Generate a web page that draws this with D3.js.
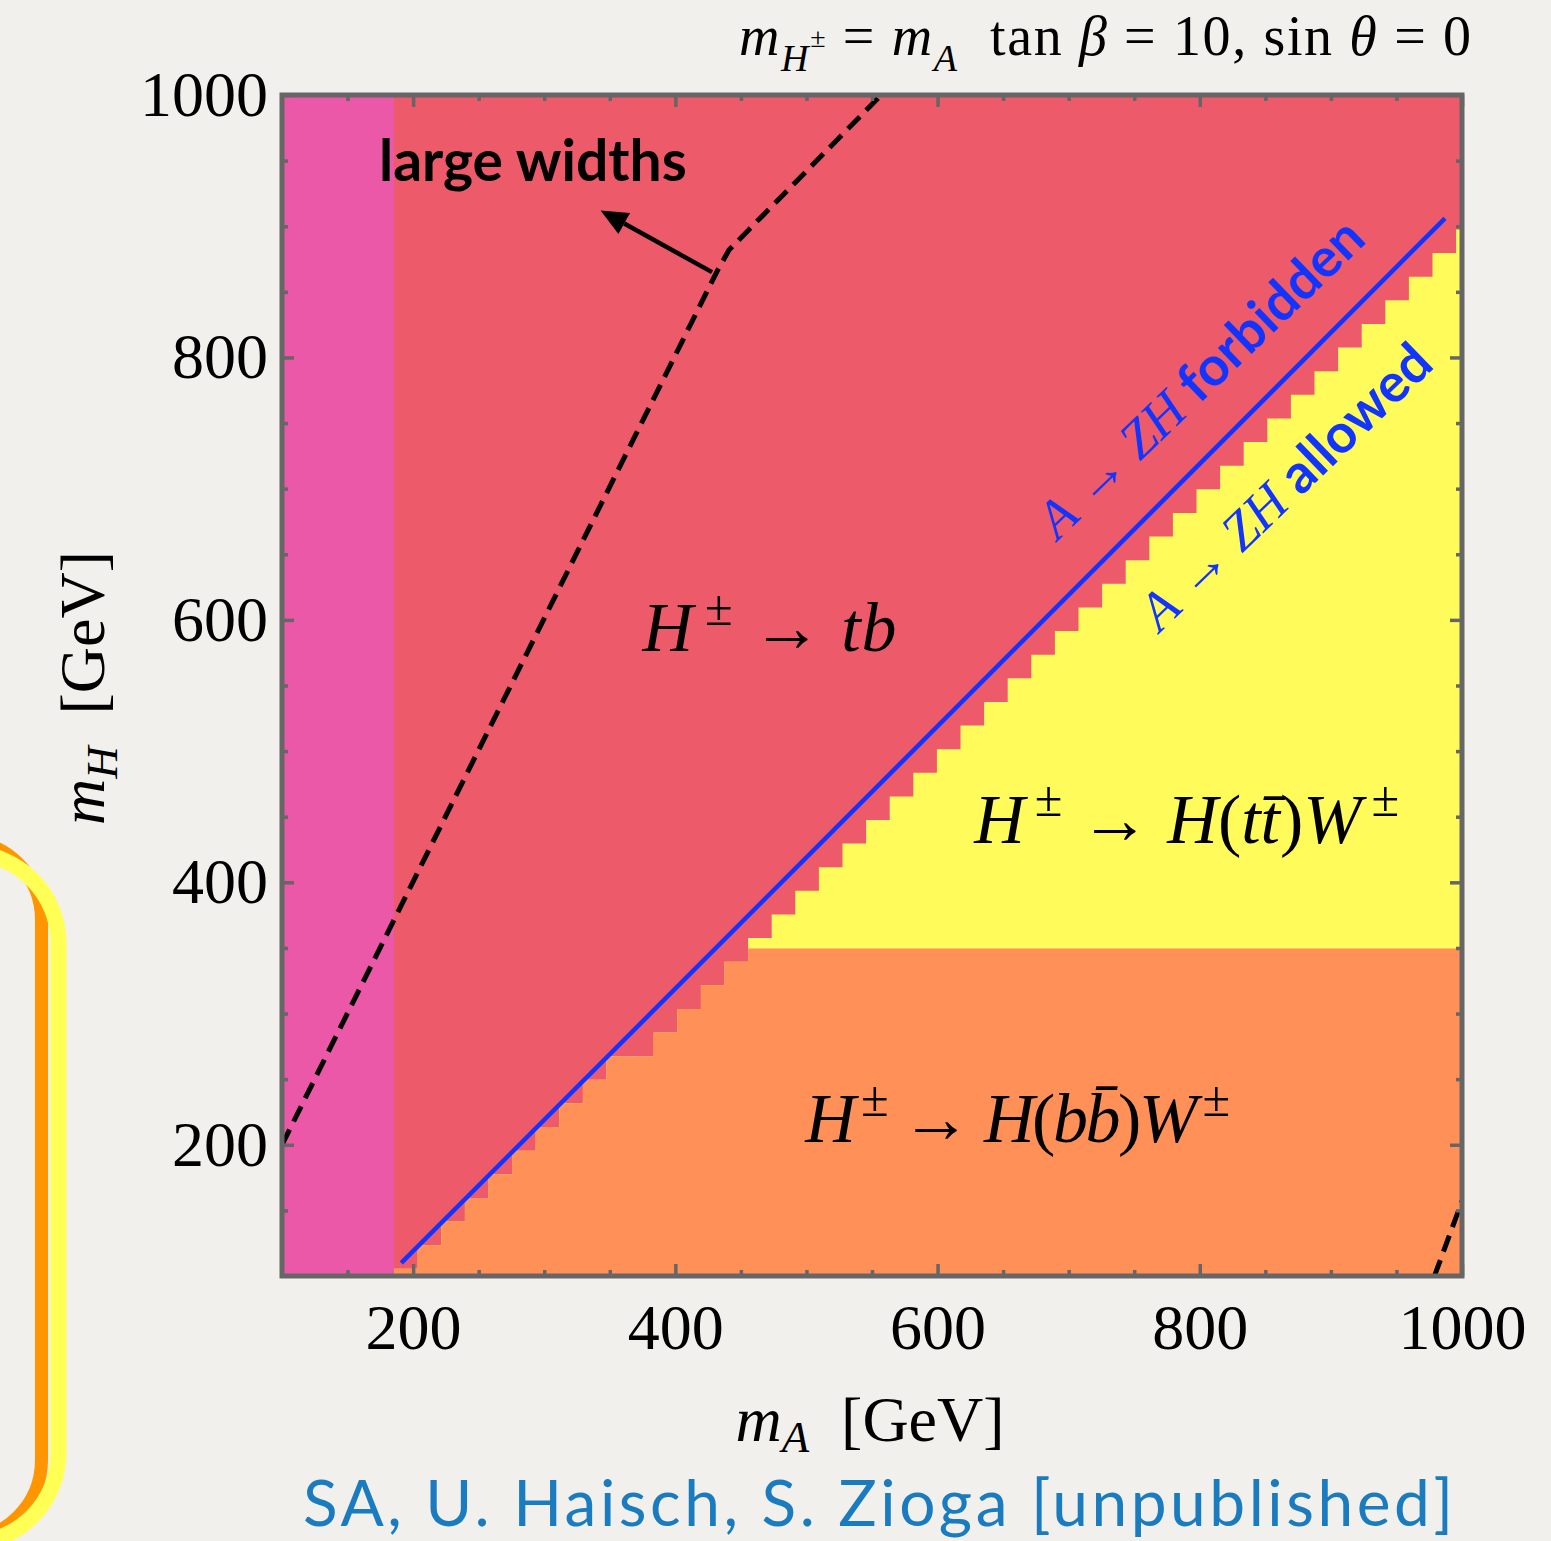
<!DOCTYPE html>
<html>
<head>
<meta charset="utf-8">
<script src="https://cdn.jsdelivr.net/npm/d3@7/dist/d3.min.js"></script>
<style>
  body { margin: 0; background: #f1f0ed; }
  svg { display: block; }
</style>
</head>
<body>
<div id="chart"></div>
<script>
// axis ranges and ticks (GeV)
var xDomain = [100, 1000]
var yDomain = [100, 1000]
var majorTicks = [200, 400, 600, 800, 1000]
var minorTicks = [150, 250, 300, 350, 450, 500, 550, 650, 700, 750, 850, 900, 950]

// region boundaries
var wideWidthMax = 185.5   // m_A below this: pink band
var ttbarMin = 349.5       // m_H above this: H -> t tbar
// staircase of the sampled region boundary (m_A left edge of each column, m_H top of column)
var stepLeft = [185.5, 203.5, 221.5, 239.5, 257.5, 275.5, 293.5, 311.5, 329.5, 347.5,
                365.5, 383.5, 401.5, 419.5, 437.5, 455.5, 473.5, 491.5, 509.5, 527.5,
                545.5, 563.5, 581.5, 599.5, 617.5, 635.5, 653.5, 671.5, 689.5, 707.5,
                725.5, 743.5, 761.5, 779.5, 797.5, 815.5, 833.5, 851.5, 869.5, 887.5,
                905.5, 923.5, 941.5, 959.5, 977.5, 995.5]
var stepTop = [105.5, 123.5, 141.5, 159.5, 177.5, 195.5, 213.5, 231.5, 249.5, 267.5,
               267.5, 285.5, 303.5, 321.5, 339.5, 357.5, 375.5, 393.5, 411.5, 429.5,
               447.5, 465.5, 483.5, 501.5, 519.5, 537.5, 555.5, 573.5, 591.5, 609.5,
               627.5, 645.5, 663.5, 681.5, 699.5, 717.5, 735.5, 753.5, 771.5, 789.5,
               807.5, 825.5, 843.5, 861.5, 879.5, 897.5]

// A -> ZH threshold line
var zhLine = [[191, 110], [987, 906]]
// "large widths" contours (dashed)
var widthCurve = [[100, 200], [432, 866], [441, 882], [557, 1000]]
var widthCurve2 = [[979, 100], [1000, 157]]
// arrow from the contour towards the label
var widthArrow = [[428, 865], [343, 912]]

var width = 1551
var height = 1541

var svg = d3.select("#chart")
    .append("svg")
    .attr("width", width)
    .attr("height", height)

svg.append("rect")
    .attr("width", width)
    .attr("height", height)
    .attr("fill", "#f1f0ed")

// decoration on the left edge (part of a rounded box)
svg.append("rect")
    .attr("x", -300).attr("y", 840).attr("width", 341.5).attr("height", 700)
    .attr("rx", 80).attr("ry", 80)
    .attr("fill", "none").attr("stroke", "#ff9500").attr("stroke-width", 13)
svg.append("rect")
    .attr("x", -300).attr("y", 853).attr("width", 358.5).attr("height", 690)
    .attr("rx", 90).attr("ry", 90)
    .attr("fill", "none").attr("stroke", "#ffff55").attr("stroke-width", 16)

var x = d3.scaleLinear().domain(xDomain).range([282, 1462])
var y = d3.scaleLinear().domain(yDomain).range([1276, 95])

svg.append("clipPath").attr("id", "plotclip")
    .append("rect")
    .attr("x", x(100)).attr("y", y(1000))
    .attr("width", x(1000) - x(100)).attr("height", y(100) - y(1000))

var plot = svg.append("g").attr("clip-path", "url(#plotclip)")

// H+ -> tb everywhere
plot.append("rect")
    .attr("x", x(100)).attr("y", y(1000))
    .attr("width", x(1000) - x(100)).attr("height", y(100) - y(1000))
    .attr("fill", "#ed5a6a")

// large widths band
plot.append("rect")
    .attr("x", x(100)).attr("y", y(1000))
    .attr("width", x(wideWidthMax) - x(100)).attr("height", y(100) - y(1000))
    .attr("fill", "#ea58a7")

function stairs(cap) {
    var pts = [[wideWidthMax, 100]]
    stepLeft.forEach(function(l, i) {
        var r = i < stepLeft.length - 1 ? stepLeft[i + 1] : 1000
        var t = Math.min(stepTop[i], cap)
        pts.push([l, t])
        pts.push([r, t])
    })
    pts.push([1000, 100])
    return pts
}

var area = d3.line()
    .x(function(d) { return x(d[0]) })
    .y(function(d) { return y(d[1]) })

plot.append("path")
    .attr("d", area(stairs(2000)) + "Z")
    .attr("fill", "#fffb5a")
plot.append("path")
    .attr("d", area(stairs(ttbarMin)) + "Z")
    .attr("fill", "#ff9058")

// A -> ZH threshold
plot.append("path")
    .attr("d", area(zhLine))
    .attr("fill", "none")
    .attr("stroke", "#1234ff")
    .attr("stroke-width", 4.5)

// dashed width contours
;[widthCurve, widthCurve2].forEach(function(c) {
    plot.append("path")
        .attr("d", area(c))
        .attr("fill", "none")
        .attr("stroke", "#000")
        .attr("stroke-width", 5)
        .attr("stroke-dasharray", "17,9")
})

// arrow
var a0 = [x(widthArrow[0][0]), y(widthArrow[0][1])]
var a1 = [x(widthArrow[1][0]), y(widthArrow[1][1])]
var ang = Math.atan2(a1[1] - a0[1], a1[0] - a0[0])
var headLen = 27, headW = 12
var bx = a1[0] - headLen * Math.cos(ang), by = a1[1] - headLen * Math.sin(ang)
plot.append("line")
    .attr("x1", a0[0]).attr("y1", a0[1]).attr("x2", bx).attr("y2", by)
    .attr("stroke", "#000").attr("stroke-width", 4.5)
plot.append("path")
    .attr("d", "M" + a1[0] + "," + a1[1] +
        "L" + (bx + headW * Math.sin(ang)) + "," + (by - headW * Math.cos(ang)) +
        "L" + (bx - headW * Math.sin(ang)) + "," + (by + headW * Math.cos(ang)) + "Z")
    .attr("fill", "#000")

var serif = "'Liberation Serif', 'Times New Roman', serif"
var sans = "Lato, 'Open Sans', sans-serif"

// builds a text from pieces: [string, italic?, scale, dy(em of base), family, weight]
function mathText(parent, px, py, size, pieces, opts) {
    opts = opts || {}
    var t = parent.append("text")
        .attr("x", px).attr("y", py)
        .attr("font-family", serif)
        .attr("font-size", size)
        .attr("fill", opts.fill || "#000")
        .attr("text-anchor", opts.anchor || "start")
        .style("white-space", "pre")
    if (opts.transform) t.attr("transform", opts.transform)
    if (opts.len) t.attr("textLength", opts.len).attr("lengthAdjust", "spacing")
    pieces.forEach(function(p) {
        var s = t.append("tspan").text(p[0])
        if (p[1]) s.attr("font-style", "italic")
        if (p[2]) s.attr("font-size", size * p[2])
        if (p[3]) s.attr("dy", p[3] * size)
        if (p[4]) s.attr("font-family", p[4])
        if (p[5]) s.attr("font-weight", p[5])
    })
    return t
}

var sup = -0.38
// region labels
mathText(svg, x(375), y(576), 70, [
    ["H", 1], ["\u2009±", 0, 0.72, sup], [" → ", 0, 1, -sup], ["tb", 1]], { len: 254 })
mathText(svg, x(628), y(430), 70, [
    ["H", 1], ["\u2009±", 0, 0.72, sup], [" → ", 0, 1, -sup], ["H", 1], ["(", 0], ["tt\u0304", 1], [")", 0], ["W", 1], ["\u2009±", 0, 0.72, sup]], { len: 425 })
mathText(svg, x(499), y(202), 70, [
    ["H", 1], ["\u2009±", 0, 0.72, sup], [" → ", 0, 1, -sup], ["H", 1], ["(", 0], ["bb\u0304", 1], [")", 0], ["W", 1], ["\u2009±", 0, 0.72, sup]], { len: 425 })

// large widths label
svg.append("text")
    .attr("x", 379).attr("y", 181)
    .attr("font-family", sans).attr("font-weight", 700)
    .attr("font-size", 57)
    .text("large widths")

// rotated A -> ZH labels
mathText(svg, 1058, 541, 54, [
    ["A", 1], [" → ", 0], ["ZH", 1], [" forbidden", 0, 1, 0, sans, 700]],
    { fill: "#1234ff", transform: "rotate(-44,1058,541)" })
mathText(svg, 1160, 633, 54, [
    ["A", 1], [" → ", 0], ["ZH", 1], [" allowed", 0, 1, 0, sans, 700]],
    { fill: "#1234ff", transform: "rotate(-44,1160,633)" })

// title
mathText(svg, 739, 55, 56, [
    ["m", 1], ["H", 1, 0.68, 0.28], ["±", 0, 0.5, -0.42], [" = ", 0, 1, 0.14], ["m", 1], ["A", 1, 0.68, 0.28],
    ["  tan ", 0, 1, -0.28], ["β", 1], [" = 10, sin ", 0], ["θ", 1], [" = 0", 0]], { len: 732 })

// axis titles
mathText(svg, 870, 1441, 64, [
    ["m", 1], ["A", 1, 0.7, 0.17], ["\u2002[GeV]", 0, 1, -0.17]], { anchor: "middle" })
mathText(svg, 0, 0, 64, [
    ["m", 1], ["H", 1, 0.7, 0.2], ["\u2002[GeV]", 0, 1, -0.2]],
    { anchor: "middle", transform: "translate(104,688) rotate(-90)" })

// citation
svg.append("text")
    .attr("x", 303).attr("y", 1526)
    .attr("font-family", sans)
    .attr("font-size", 64)
    .attr("textLength", 1150)
    .attr("fill", "#1a7cbf")
    .text("SA, U. Haisch, S. Zioga [unpublished]")

// axes: ticks inward on all sides
function styleAxis(g) {
    g.select(".domain").remove()
    g.selectAll(".tick line").attr("stroke", "#666").attr("stroke-width", 3.5)
    g.selectAll(".tick text")
        .attr("font-family", serif).attr("font-size", 64).attr("fill", "#000")
}

svg.append("g").attr("transform", "translate(0," + y(100) + ")")
    .call(d3.axisBottom(x).tickValues(majorTicks).tickSize(-12).tickPadding(28).tickFormat(d3.format("d")))
    .call(styleAxis)
svg.append("g").attr("transform", "translate(0," + y(100) + ")")
    .call(d3.axisBottom(x).tickValues(minorTicks).tickSize(-6).tickFormat(""))
    .call(styleAxis)
svg.append("g").attr("transform", "translate(0," + y(1000) + ")")
    .call(d3.axisTop(x).tickValues(majorTicks).tickSize(-12).tickFormat(""))
    .call(styleAxis)
svg.append("g").attr("transform", "translate(0," + y(1000) + ")")
    .call(d3.axisTop(x).tickValues(minorTicks).tickSize(-6).tickFormat(""))
    .call(styleAxis)
svg.append("g").attr("transform", "translate(" + x(100) + ",0)")
    .call(d3.axisLeft(y).tickValues(majorTicks).tickSize(-12).tickPadding(14).tickFormat(d3.format("d")))
    .call(styleAxis)
svg.append("g").attr("transform", "translate(" + x(100) + ",0)")
    .call(d3.axisLeft(y).tickValues(minorTicks).tickSize(-6).tickFormat(""))
    .call(styleAxis)
svg.append("g").attr("transform", "translate(" + x(1000) + ",0)")
    .call(d3.axisRight(y).tickValues(majorTicks).tickSize(-12).tickFormat(""))
    .call(styleAxis)
svg.append("g").attr("transform", "translate(" + x(1000) + ",0)")
    .call(d3.axisRight(y).tickValues(minorTicks).tickSize(-6).tickFormat(""))
    .call(styleAxis)

// frame
svg.append("rect")
    .attr("x", x(100)).attr("y", y(1000))
    .attr("width", x(1000) - x(100)).attr("height", y(100) - y(1000))
    .attr("fill", "none")
    .attr("stroke", "#666")
    .attr("stroke-width", 5)
</script>
</body>
</html>
